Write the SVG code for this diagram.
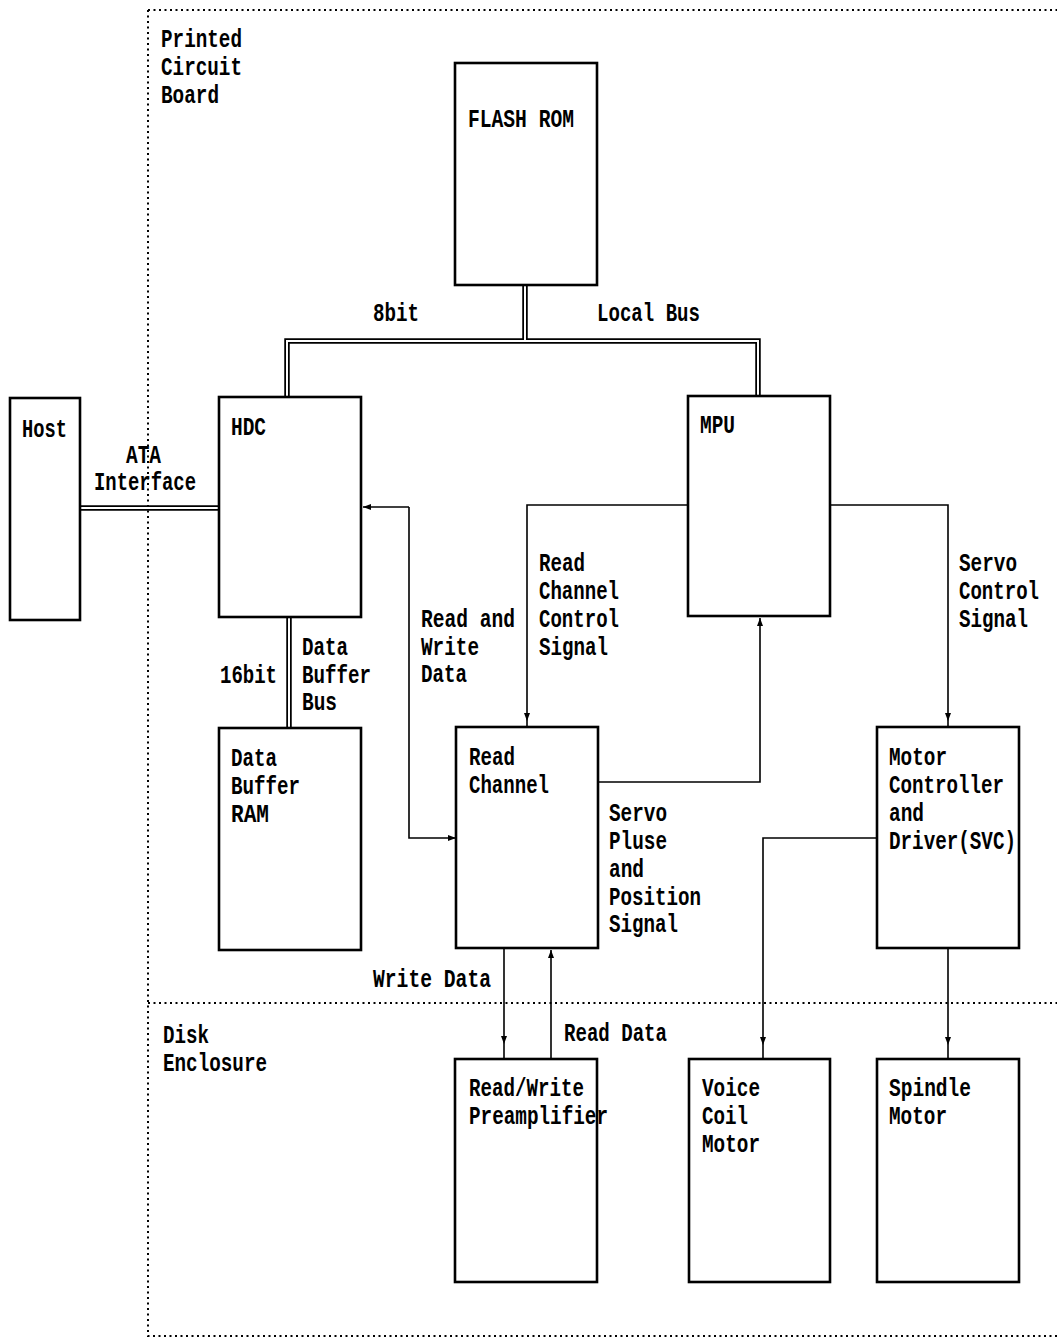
<svg xmlns="http://www.w3.org/2000/svg" width="1057" height="1339" viewBox="0 0 1057 1339">
<style>
.box{fill:#fff;stroke:#000;stroke-width:2.6}
.dot{fill:none;stroke:#000;stroke-width:2;stroke-dasharray:2 3.5}
.ln{fill:none;stroke:#000;stroke-width:1.6}
.busO{fill:none;stroke:#000;stroke-width:5.5}
.busI{fill:none;stroke:#fff;stroke-width:2}
text{font-family:"Liberation Mono","DejaVu Sans Mono",monospace;font-size:26px;font-weight:bold;fill:#000}
</style>
<defs>
<marker id="ah" markerWidth="8" markerHeight="6" refX="8" refY="3" orient="auto" markerUnits="userSpaceOnUse">
<path d="M0,0 L8,3 L0,6 Z" fill="#000"/>
</marker>
</defs>
<rect width="1057" height="1339" fill="#fff"/>
<g id="regions">
<path class="dot" d="M148,10 H1057 M148,10 V1336 H1057 M148,1003 H1057"/>
<text x="161" y="47" textLength="81" lengthAdjust="spacingAndGlyphs">Printed</text>
<text x="161" y="75" textLength="81" lengthAdjust="spacingAndGlyphs">Circuit</text>
<text x="161" y="103" textLength="58" lengthAdjust="spacingAndGlyphs">Board</text>
<text x="163" y="1043" textLength="46" lengthAdjust="spacingAndGlyphs">Disk</text>
<text x="163" y="1071" textLength="104" lengthAdjust="spacingAndGlyphs">Enclosure</text>
</g>
<g id="connectors">
<path class="busO" d="M525,285 V341 H287 V397 M525,341 H758 V396"/>
<path class="busO" d="M80,508 H219"/>
<path class="busO" d="M289,617 V728"/>
<path class="busI" d="M525,284 V341 H287 V398 M525,341 H758 V397"/>
<path class="busI" d="M79,508 H220"/>
<path class="busI" d="M289,616 V729"/>
<path class="ln" d="M409,507 H363" marker-end="url(#ah)"/>
<path class="ln" d="M409,507 V838 H456" marker-end="url(#ah)"/>
<path class="ln" d="M688,505 H527 V721" marker-end="url(#ah)"/>
<path class="ln" d="M527,721 V727"/>
<path class="ln" d="M598,782 H760 V618" marker-end="url(#ah)"/>
<path class="ln" d="M830,505 H948 V721" marker-end="url(#ah)"/>
<path class="ln" d="M948,721 V727"/>
<path class="ln" d="M877,838 H763 V1045" marker-end="url(#ah)"/>
<path class="ln" d="M763,1045 V1059"/>
<path class="ln" d="M948,948 V1045" marker-end="url(#ah)"/>
<path class="ln" d="M948,1045 V1059"/>
<path class="ln" d="M504,948 V1044" marker-end="url(#ah)"/>
<path class="ln" d="M504,1044 V1059"/>
<path class="ln" d="M551,1059 V950" marker-end="url(#ah)"/>
<text x="373" y="321" textLength="46" lengthAdjust="spacingAndGlyphs">8bit</text>
<text x="597" y="321" textLength="103" lengthAdjust="spacingAndGlyphs">Local Bus</text>
<text x="126" y="463" textLength="35" lengthAdjust="spacingAndGlyphs">ATA</text>
<text x="94" y="490" textLength="102" lengthAdjust="spacingAndGlyphs">Interface</text>
<text x="539" y="571" textLength="46" lengthAdjust="spacingAndGlyphs">Read</text>
<text x="539" y="599" textLength="80" lengthAdjust="spacingAndGlyphs">Channel</text>
<text x="539" y="627" textLength="80" lengthAdjust="spacingAndGlyphs">Control</text>
<text x="539" y="655" textLength="69" lengthAdjust="spacingAndGlyphs">Signal</text>
<text x="959" y="571" textLength="58" lengthAdjust="spacingAndGlyphs">Servo</text>
<text x="959" y="599" textLength="80" lengthAdjust="spacingAndGlyphs">Control</text>
<text x="959" y="627" textLength="69" lengthAdjust="spacingAndGlyphs">Signal</text>
<text x="421" y="627" textLength="94" lengthAdjust="spacingAndGlyphs">Read and</text>
<text x="421" y="655" textLength="58" lengthAdjust="spacingAndGlyphs">Write</text>
<text x="421" y="682" textLength="46" lengthAdjust="spacingAndGlyphs">Data</text>
<text x="302" y="655" textLength="46" lengthAdjust="spacingAndGlyphs">Data</text>
<text x="302" y="683" textLength="69" lengthAdjust="spacingAndGlyphs">Buffer</text>
<text x="302" y="710" textLength="35" lengthAdjust="spacingAndGlyphs">Bus</text>
<text x="220" y="683" textLength="57" lengthAdjust="spacingAndGlyphs">16bit</text>
<text x="609" y="821" textLength="58" lengthAdjust="spacingAndGlyphs">Servo</text>
<text x="609" y="849" textLength="58" lengthAdjust="spacingAndGlyphs">Pluse</text>
<text x="609" y="877" textLength="35" lengthAdjust="spacingAndGlyphs">and</text>
<text x="609" y="905" textLength="92" lengthAdjust="spacingAndGlyphs">Position</text>
<text x="609" y="932" textLength="69" lengthAdjust="spacingAndGlyphs">Signal</text>
<text x="373" y="987" textLength="118" lengthAdjust="spacingAndGlyphs">Write Data</text>
<text x="564" y="1041" textLength="103" lengthAdjust="spacingAndGlyphs">Read Data</text>
</g>
<g id="flash-rom">
<rect class="box" x="455" y="63" width="142" height="222"/>
<text x="468" y="127" textLength="106" lengthAdjust="spacingAndGlyphs">FLASH ROM</text>
</g>
<g id="host">
<rect class="box" x="10" y="398" width="70" height="222"/>
<text x="22" y="437" textLength="45" lengthAdjust="spacingAndGlyphs">Host</text>
</g>
<g id="hdc">
<rect class="box" x="219" y="397" width="142" height="220"/>
<text x="231" y="435" textLength="35" lengthAdjust="spacingAndGlyphs">HDC</text>
</g>
<g id="mpu">
<rect class="box" x="688" y="396" width="142" height="220"/>
<text x="700" y="433" textLength="35" lengthAdjust="spacingAndGlyphs">MPU</text>
</g>
<g id="data-buffer-ram">
<rect class="box" x="219" y="728" width="142" height="222"/>
<text x="231" y="766" textLength="46" lengthAdjust="spacingAndGlyphs">Data</text>
<text x="231" y="794" textLength="69" lengthAdjust="spacingAndGlyphs">Buffer</text>
<text x="231" y="822" textLength="38" lengthAdjust="spacingAndGlyphs">RAM</text>
</g>
<g id="read-channel">
<rect class="box" x="456" y="727" width="142" height="221"/>
<text x="469" y="765" textLength="46" lengthAdjust="spacingAndGlyphs">Read</text>
<text x="469" y="793" textLength="80" lengthAdjust="spacingAndGlyphs">Channel</text>
</g>
<g id="motor-controller">
<rect class="box" x="877" y="727" width="142" height="221"/>
<text x="889" y="765" textLength="58" lengthAdjust="spacingAndGlyphs">Motor</text>
<text x="889" y="793" textLength="115" lengthAdjust="spacingAndGlyphs">Controller</text>
<text x="889" y="821" textLength="35" lengthAdjust="spacingAndGlyphs">and</text>
<text x="889" y="849" textLength="127" lengthAdjust="spacingAndGlyphs">Driver(SVC)</text>
</g>
<g id="preamplifier">
<rect class="box" x="455" y="1059" width="142" height="223"/>
<text x="469" y="1096" textLength="115" lengthAdjust="spacingAndGlyphs">Read/Write</text>
<text x="469" y="1124" textLength="139" lengthAdjust="spacingAndGlyphs">Preamplifier</text>
</g>
<g id="voice-coil-motor">
<rect class="box" x="689" y="1059" width="141" height="223"/>
<text x="702" y="1096" textLength="58" lengthAdjust="spacingAndGlyphs">Voice</text>
<text x="702" y="1124" textLength="46" lengthAdjust="spacingAndGlyphs">Coil</text>
<text x="702" y="1152" textLength="58" lengthAdjust="spacingAndGlyphs">Motor</text>
</g>
<g id="spindle-motor">
<rect class="box" x="877" y="1059" width="142" height="223"/>
<text x="889" y="1096" textLength="82" lengthAdjust="spacingAndGlyphs">Spindle</text>
<text x="889" y="1124" textLength="58" lengthAdjust="spacingAndGlyphs">Motor</text>
</g>
</svg>
